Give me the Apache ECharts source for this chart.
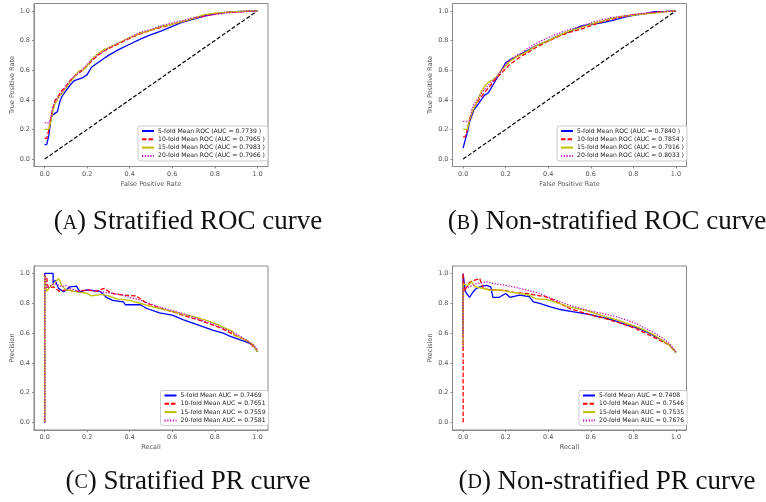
<!DOCTYPE html>
<html>
<head>
<meta charset="utf-8">
<script src="https://cdn.jsdelivr.net/npm/echarts@6/dist/echarts.min.js"></script>
<style>html,body{margin:0;padding:0;background:#fff}#c{width:766px;height:502px}</style>
</head>
<body>
<div id="c"></div>
<script>
// ---------- DATA ----------
const tickValues = [0, 0.2, 0.4, 0.6, 0.8, 1.0];
const diagX = [0, 1];
const diagY = [0, 1];

const rocFpr = [0,0.01,0.02,0.03,0.04,0.05,0.06,0.07,0.08,0.1,0.12,0.14,0.16,0.18,0.2,0.22,0.25,0.28,0.3,0.35,0.4,0.45,0.5,0.55,0.6,0.65,0.7,0.75,0.8,0.85,0.9,0.95,1.0];

// (A) Stratified ROC
const rocA5  = [0.096,0.10,0.16,0.28,0.30,0.31,0.32,0.38,0.42,0.46,0.50,0.53,0.54,0.55,0.57,0.62,0.65,0.68,0.70,0.74,0.775,0.81,0.84,0.865,0.895,0.925,0.945,0.965,0.98,0.99,0.995,0.998,1.0];
const rocA10 = [0.14,0.14,0.20,0.29,0.35,0.40,0.41,0.44,0.46,0.49,0.53,0.56,0.58,0.60,0.63,0.66,0.70,0.73,0.745,0.78,0.815,0.845,0.87,0.89,0.91,0.93,0.95,0.965,0.98,0.99,0.993,0.997,1.0];
const rocA15 = [0.20,0.20,0.20,0.26,0.33,0.38,0.40,0.43,0.44,0.48,0.52,0.555,0.595,0.60,0.63,0.67,0.71,0.74,0.75,0.785,0.82,0.85,0.87,0.895,0.91,0.93,0.95,0.975,0.985,0.99,0.995,0.998,1.0];
const rocA20 = [0.245,0.245,0.245,0.28,0.36,0.39,0.41,0.43,0.45,0.49,0.53,0.56,0.58,0.61,0.64,0.67,0.705,0.73,0.75,0.785,0.82,0.855,0.875,0.90,0.92,0.935,0.955,0.965,0.975,0.985,0.99,0.995,1.0];
const legA = ['5-fold Mean ROC (AUC = 0.7739 )','10-fold Mean ROC (AUC = 0.7965 )','15-fold Mean ROC (AUC = 0.7983 )','20-fold Mean ROC (AUC = 0.7966 )'];

// (B) Non-stratified ROC
const rocB5  = [0.075,0.13,0.18,0.25,0.29,0.33,0.35,0.37,0.39,0.43,0.45,0.50,0.55,0.60,0.65,0.67,0.69,0.715,0.73,0.77,0.80,0.835,0.86,0.895,0.91,0.92,0.935,0.955,0.97,0.98,0.995,0.997,1.0];
const rocB10 = [0.15,0.15,0.20,0.27,0.31,0.34,0.37,0.39,0.41,0.45,0.48,0.52,0.55,0.58,0.61,0.64,0.67,0.70,0.715,0.76,0.795,0.83,0.855,0.875,0.90,0.925,0.945,0.96,0.975,0.98,0.99,0.995,1.0];
const rocB15 = [0.20,0.20,0.20,0.26,0.31,0.34,0.37,0.40,0.44,0.49,0.52,0.535,0.56,0.60,0.63,0.66,0.69,0.71,0.725,0.77,0.80,0.835,0.865,0.885,0.91,0.93,0.95,0.965,0.97,0.98,0.985,0.995,1.0];
const rocB20 = [0.255,0.255,0.255,0.26,0.33,0.37,0.39,0.41,0.43,0.47,0.50,0.53,0.56,0.60,0.64,0.67,0.70,0.72,0.745,0.785,0.82,0.85,0.875,0.895,0.92,0.94,0.955,0.965,0.975,0.985,0.99,0.995,1.0];
const legB = ['5-fold Mean ROC (AUC = 0.7840 )','10-fold Mean ROC (AUC = 0.7854 )','15-fold Mean ROC (AUC = 0.7916 )','20-fold Mean ROC (AUC = 0.8033 )'];

// (C) Stratified PR
const prC5R  = [0,0,0.02,0.04,0.04,0.05,0.065,0.09,0.12,0.15,0.165,0.2,0.26,0.29,0.32,0.37,0.38,0.45,0.48,0.54,0.6,0.65,0.7,0.75,0.79,0.84,0.87,0.91,0.95,0.98,1.0];
const prC5P  = [0,1,1,1,0.93,0.955,0.9,0.877,0.91,0.915,0.877,0.89,0.88,0.84,0.82,0.81,0.79,0.79,0.765,0.735,0.72,0.69,0.665,0.64,0.62,0.60,0.58,0.56,0.54,0.52,0.475];
const prC10R = [0,0,0.01,0.012,0.02,0.04,0.07,0.1,0.15,0.2,0.24,0.28,0.31,0.34,0.37,0.43,0.45,0.48,0.52,0.57,0.62,0.67,0.72,0.79,0.84,0.89,0.93,0.96,1.0];
const prC10P = [0,0.98,0.98,0.93,0.9,0.91,0.88,0.89,0.88,0.89,0.88,0.9,0.87,0.86,0.855,0.85,0.83,0.80,0.78,0.755,0.735,0.71,0.69,0.655,0.625,0.59,0.565,0.54,0.48];
const prC15R = [0,0,0.01,0.02,0.04,0.066,0.08,0.1,0.15,0.2,0.22,0.27,0.3,0.34,0.4,0.45,0.5,0.55,0.6,0.65,0.7,0.75,0.8,0.885,0.89,0.92,0.95,0.98,1.0];
const prC15P = [0,0.99,0.88,0.9,0.93,0.966,0.92,0.89,0.877,0.866,0.85,0.86,0.85,0.83,0.82,0.80,0.78,0.76,0.745,0.725,0.71,0.69,0.665,0.61,0.585,0.57,0.55,0.52,0.475];
const prC20R = [0,0,0.01,0.03,0.05,0.08,0.1,0.12,0.16,0.2,0.25,0.3,0.35,0.4,0.45,0.5,0.55,0.6,0.65,0.7,0.75,0.8,0.85,0.9,0.95,0.98,1.0];
const prC20P = [0,1.0,0.9,0.92,0.93,0.91,0.92,0.9,0.88,0.89,0.88,0.87,0.86,0.84,0.82,0.795,0.77,0.75,0.73,0.705,0.68,0.655,0.625,0.595,0.55,0.525,0.49];
const legC = ['5-fold Mean AUC = 0.7469','10-fold Mean AUC = 0.7651','15-fold Mean AUC = 0.7559','20-fold Mean AUC = 0.7581'];

// (D) Non-stratified PR
const prD5R  = [0,0,0.005,0.01,0.03,0.047,0.0625,0.078,0.11,0.13,0.14,0.17,0.2,0.22,0.265,0.31,0.33,0.36,0.41,0.45,0.52,0.59,0.67,0.72,0.77,0.82,0.86,0.92,0.97,1.0];
const prD5P  = [0.6,1.0,1.0,0.88,0.84,0.877,0.90,0.91,0.92,0.91,0.84,0.84,0.866,0.84,0.855,0.845,0.81,0.80,0.776,0.76,0.743,0.725,0.70,0.68,0.653,0.635,0.61,0.564,0.52,0.47];
const prD10R = [0,0,0.005,0.03,0.055,0.078,0.094,0.125,0.156,0.2,0.25,0.3,0.34,0.39,0.44,0.5,0.58,0.66,0.72,0.77,0.82,0.86,0.9,0.94,0.97,1.0];
const prD10P = [0,1.0,0.88,0.94,0.955,0.966,0.90,0.89,0.89,0.884,0.87,0.866,0.855,0.843,0.81,0.765,0.73,0.70,0.675,0.653,0.625,0.597,0.57,0.54,0.52,0.47];
const prD15R = [0,0,0.023,0.04,0.055,0.094,0.125,0.17,0.22,0.265,0.31,0.34,0.39,0.45,0.5,0.58,0.66,0.72,0.77,0.82,0.86,0.9,0.94,0.97,1.0];
const prD15P = [0.5,0.93,0.92,0.944,0.91,0.90,0.888,0.89,0.877,0.866,0.855,0.83,0.826,0.80,0.776,0.75,0.714,0.69,0.665,0.64,0.615,0.585,0.548,0.52,0.47];
const prD20R = [0,0,0.03,0.06,0.11,0.14,0.2,0.25,0.3,0.36,0.42,0.5,0.58,0.66,0.72,0.77,0.82,0.86,0.9,0.94,0.97,1.0];
const prD20P = [0.5,0.9,0.91,0.93,0.944,0.933,0.92,0.906,0.888,0.866,0.83,0.787,0.754,0.73,0.71,0.687,0.66,0.63,0.60,0.564,0.53,0.475];
const legD = ['5-fold Mean AUC = 0.7408','10-fold Mean AUC = 0.7546','15-fold Mean AUC = 0.7535','20-fold Mean AUC = 0.7676'];

const captions = [
  {letter: 'A', text: ') Stratified ROC curve'},
  {letter: 'B', text: ') Non-stratified ROC curve'},
  {letter: 'C', text: ') Stratified PR curve'},
  {letter: 'D', text: ') Non-stratified PR curve'}
];

// ---------- BUILD ----------
const colors = ['#0000ff', '#ff0000', '#bfbf00', '#bf00bf'];
const dashes = ['solid', [4.5, 2], 'solid', [1.2, 1.6]];
const zip = (xs, ys) => xs.map((x, i) => [x, ys[i]]);

const grids = [
  {left: 34, top: 3.5, width: 234, height: 163},
  {left: 452.5, top: 3.5, width: 234, height: 163},
  {left: 34, top: 266, width: 234, height: 164},
  {left: 452.5, top: 266, width: 234, height: 164}
];
const xNames = ['False Positive Rate', 'False Positive Rate', 'Recall', 'Recall'];
const yNames = ['True Positive Rate', 'True Positive Rate', 'Precision', 'Precision'];
const font = 'DejaVu Sans';
const lblColor = '#555';
const fmt = v => v.toFixed(1);

const xAxes = grids.map((g, i) => ({
  type: 'value', gridIndex: i, min: -0.05, max: 1.05,
  splitLine: {show: false},
  axisLine: {show: true, onZero: false, lineStyle: {color: '#8a8a8a', width: 1}},
  axisTick: {show: true, length: 2, customValues: tickValues, lineStyle: {color: '#8a8a8a'}},
  axisLabel: {customValues: tickValues, formatter: fmt, fontSize: 6.5, color: lblColor, fontFamily: font, margin: 4},
  name: xNames[i], nameLocation: 'middle', nameGap: 14,
  nameTextStyle: {fontSize: 6.5, color: lblColor, fontFamily: font}
}));
const yAxes = grids.map((g, i) => ({
  type: 'value', gridIndex: i, min: -0.05, max: 1.05,
  splitLine: {show: false},
  axisLine: {show: true, onZero: false, lineStyle: {color: '#8a8a8a', width: 1}},
  axisTick: {show: true, length: 2, customValues: tickValues, lineStyle: {color: '#8a8a8a'}},
  axisLabel: {customValues: tickValues, formatter: fmt, fontSize: 6.5, color: lblColor, fontFamily: font, margin: 4},
  name: yNames[i], nameLocation: 'middle', nameGap: 16,
  nameTextStyle: {fontSize: 6.5, color: lblColor, fontFamily: font}
}));

const series = [];
function addLine(idx, name, data, k) {
  series.push({
    type: 'line', name: name, xAxisIndex: idx, yAxisIndex: idx,
    data: data, showSymbol: false, symbol: 'none', animation: false,
    lineStyle: {color: colors[k], width: 1.3, type: dashes[k]},
    itemStyle: {color: colors[k]}
  });
}
function addDiag(idx) {
  series.push({
    type: 'line', xAxisIndex: idx, yAxisIndex: idx, data: zip(diagX, diagY),
    showSymbol: false, symbol: 'none', animation: false, silent: true,
    lineStyle: {color: '#000', width: 1.2, type: [4, 2]}
  });
}
addDiag(0);
[rocA5, rocA10, rocA15, rocA20].forEach((ys, k) => addLine(0, legA[k], zip(rocFpr, ys), k));
addDiag(1);
[rocB5, rocB10, rocB15, rocB20].forEach((ys, k) => addLine(1, legB[k], zip(rocFpr, ys), k));
[[prC5R, prC5P], [prC10R, prC10P], [prC15R, prC15P], [prC20R, prC20P]].forEach((p, k) => addLine(2, legC[k], zip(p[0], p[1]), k));
[[prD5R, prD5P], [prD10R, prD10P], [prD15R, prD15P], [prD20R, prD20P]].forEach((p, k) => addLine(3, legD[k], zip(p[0], p[1]), k));

const legendPos = [
  {left: 138, top: 126}, {left: 557, top: 126},
  {left: 160.5, top: 390.5}, {left: 579, top: 390.5}
];
const legData = [legA, legB, legC, legD];
const legends = legendPos.map((p, i) => ({
  data: legData[i], left: p.left, top: p.top, orient: 'vertical',
  itemWidth: 12, itemHeight: 7, itemGap: 2.3, padding: [2, 3, 2, 3],
  borderColor: '#cccccc', borderWidth: 1, borderRadius: 2, backgroundColor: '#fff',
  selectedMode: false,
  itemStyle: {color: 'rgba(0,0,0,0)', borderWidth: 0, opacity: 0},
  textStyle: {fontSize: 6.1, color: '#222', fontFamily: font, padding: [0, 0, 0, -1]}
}));

const capPos = [[188, 222], [607, 222], [188, 481.5], [607, 481.5]];
const graphics = captions.map((c, i) => ({
  type: 'text', x: capPos[i][0], y: capPos[i][1],
  style: {
    text: '(' + '{sc|' + c.letter + '}' + c.text,
    align: 'center', verticalAlign: 'middle',
    font: '27px "Liberation Serif"', fill: '#111',
    rich: {sc: {fontSize: 20, fontFamily: 'Liberation Serif', fill: '#111', padding: [3, 0, 0, 0]}}
  }
}));

const chart = echarts.init(document.getElementById('c'), null, {renderer: 'canvas'});
chart.setOption({
  animation: false,
  backgroundColor: '#fff',
  grid: grids.map(g => Object.assign({show: true, borderColor: '#8a8a8a', borderWidth: 1, backgroundColor: 'transparent'}, g)),
  xAxis: xAxes, yAxis: yAxes,
  legend: legends,
  series: series,
  graphic: graphics
});
</script>
</body>
</html>
